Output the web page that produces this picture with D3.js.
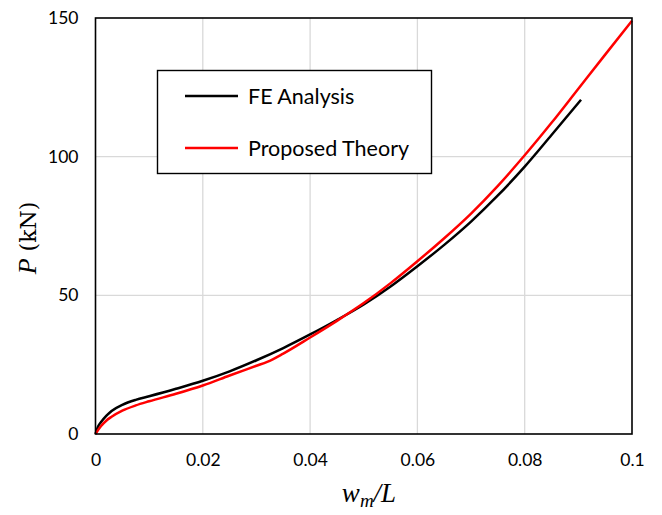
<!DOCTYPE html>
<html><head><meta charset="utf-8">
<script src="https://cdn.jsdelivr.net/npm/d3@7"></script>
<style>body{margin:0;background:#fff}</style>
</head><body>
<svg id="c" width="662" height="515"></svg>
<script>
const xTicks = [0, 0.02, 0.04, 0.06, 0.08, 0.1];
const xTickLabels = ["0", "0.02", "0.04", "0.06", "0.08", "0.1"];
const yTicks = [0, 50, 100, 150];
const feX = [0, 0.0005, 0.001, 0.002, 0.003, 0.005, 0.0075, 0.01, 0.015, 0.02, 0.025, 0.03, 0.035, 0.04, 0.045, 0.05, 0.055, 0.06, 0.065, 0.07, 0.075, 0.08, 0.085, 0.0905];
const feP = [0, 2.8, 4.2, 6.5, 8.3, 10.5, 12.3, 13.6, 16.3, 19.2, 22.6, 26.6, 31.0, 35.9, 41.1, 46.7, 53.2, 60.5, 68.2, 76.6, 86.0, 96.4, 107.8, 120.5];
const thX = [0, 0.0005, 0.001, 0.002, 0.003, 0.005, 0.0075, 0.01, 0.015, 0.02, 0.025, 0.03, 0.032, 0.035, 0.04, 0.045, 0.05, 0.055, 0.06, 0.065, 0.07, 0.075, 0.08, 0.085, 0.09, 0.095, 0.1];
const thP = [0, 1.5, 2.8, 4.8, 6.2, 8.4, 10.3, 11.8, 14.5, 17.5, 21.1, 24.6, 26.0, 29.0, 34.8, 40.8, 47.2, 54.4, 62.3, 70.6, 79.5, 89.5, 100.5, 112.2, 124.5, 136.8, 149.0];
const seriesNames = ["FE Analysis", "Proposed Theory"];

const svg = d3.select("#c");
const L = 95.5, R = 632, T = 18, B = 434;
const x = d3.scaleLinear().domain([0, 0.1]).range([L, R]);
const y = d3.scaleLinear().domain([0, 150]).range([B, T]);
const font = "Lato, 'Open Sans', sans-serif";

// gridlines
svg.append("g").selectAll("line.vg").data(xTicks.slice(1, -1)).join("line")
  .attr("x1", d => x(d)).attr("x2", d => x(d)).attr("y1", T).attr("y2", B)
  .attr("stroke", "#d9d9d9").attr("stroke-width", 1.3);
svg.append("g").selectAll("line.hg").data(yTicks.slice(1, -1)).join("line")
  .attr("y1", d => y(d)).attr("y2", d => y(d)).attr("x1", L).attr("x2", R)
  .attr("stroke", "#d9d9d9").attr("stroke-width", 1.3);

// axes (labels only)
const xAxis = svg.append("g").attr("transform", `translate(0,${B})`)
  .call(d3.axisBottom(x).tickValues(xTicks).tickFormat((d, i) => xTickLabels[i]).tickSize(0).tickPadding(20));
xAxis.select(".domain").remove();
xAxis.selectAll("text").attr("font-family", font).attr("font-size", 17.5).attr("fill", "#000");
const yAxis = svg.append("g").attr("transform", `translate(${L},0)`)
  .call(d3.axisLeft(y).tickValues(yTicks).tickSize(0).tickPadding(17));
yAxis.select(".domain").remove();
yAxis.selectAll("text").attr("font-family", font).attr("font-size", 17.5).attr("fill", "#000");

// lines
const line = d3.line().x(d => x(d[0])).y(d => y(d[1])).curve(d3.curveMonotoneX);
svg.append("path").datum(feX.map((v, i) => [v, feP[i]])).attr("d", line)
  .attr("fill", "none").attr("stroke", "#000").attr("stroke-width", 2.5);
svg.append("path").datum(thX.map((v, i) => [v, thP[i]])).attr("d", line)
  .attr("fill", "none").attr("stroke", "#ff0000").attr("stroke-width", 2.5);

// plot border
svg.append("rect").attr("x", L).attr("y", T).attr("width", R - L).attr("height", B - T)
  .attr("fill", "none").attr("stroke", "#000").attr("stroke-width", 1.6);

// legend
const lg = svg.append("g");
lg.append("rect").attr("x", 157.5).attr("y", 70.5).attr("width", 274).attr("height", 103)
  .attr("fill", "#fff").attr("stroke", "#000").attr("stroke-width", 1.4);
const colors = ["#000", "#ff0000"];
seriesNames.forEach((n, i) => {
  const yy = 96 + i * 52;
  lg.append("line").attr("x1", 185).attr("x2", 238).attr("y1", yy).attr("y2", yy)
    .attr("stroke", colors[i]).attr("stroke-width", 2.5);
  lg.append("text").attr("x", 248).attr("y", yy).attr("dy", "0.35em")
    .attr("font-family", font).attr("font-size", 21.5).text(n);
});

// axis titles
const yt = svg.append("text").attr("transform", "translate(36,238) rotate(-90)")
  .attr("text-anchor", "middle").attr("font-family", "'DejaVu Serif', 'Liberation Serif', serif").attr("font-size", 22);
yt.append("tspan").attr("font-style", "italic").attr("font-family", "'Liberation Serif', serif").attr("font-size", 26).text("P");
yt.append("tspan").text(" (kN)");

const xt = svg.append("text").attr("x", 369).attr("y", 502).attr("text-anchor", "middle")
  .attr("font-family", "'Liberation Serif', serif").attr("font-size", 27).attr("font-style", "italic");
xt.append("tspan").text("w");
xt.append("tspan").attr("font-size", 19).attr("dy", 5).text("m");
xt.append("tspan").attr("dy", -5).text("/L");
</script>
</body></html>
